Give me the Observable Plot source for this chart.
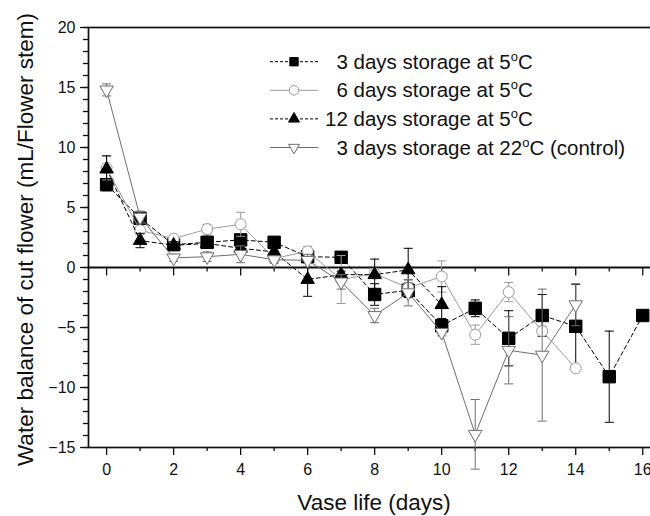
<!DOCTYPE html>
<html>
<head>
<meta charset="utf-8">
<script src="https://cdn.jsdelivr.net/npm/d3@7"></script>
<script src="https://cdn.jsdelivr.net/npm/@observablehq/plot@0.6"></script>
<style>
html, body { margin: 0; padding: 0; background: #fff; }
#chart svg { display: block; }
</style>
</head>
<body>
<div id="chart"></div>
<script>
// ---------- data ----------
const days = [0, 1, 2, 3, 4, 5, 6, 7, 8, 9, 10, 11, 12, 13, 14, 15, 16];
const xTickLabels = [0, 2, 4, 6, 8, 10, 12, 14, 16];
const xMinorTicks = [1, 3, 5, 7, 9, 11, 13, 15];
const yTickLabels = [-15, -10, -5, 0, 5, 10, 15, 20];

const seriesNames = [
  "3 days storage at 5°C",
  "6 days storage at 5°C",
  "12 days storage at 5°C",
  "3 days storage at 22°C (control)"
];

const stor3d5 = [6.9, 4.1, 1.9, 2.1, 2.3, 2.1, 0.9, 0.85, -2.25, -1.9, -4.85, -3.4, -5.9, -4.0, -4.9, -9.1, -4.0];
const stor3d5Err = [0.5, 0.3, 0.3, 0.5, 0.3, 0.4, 0.4, 0.3, 0.9, 0.6, 0.6, 0.7, 2.3, 1.75, 3.5, 3.8, null];

const stor6d5 = [8.3, 3.1, 2.4, 3.2, 3.6, 0.75, 1.35, -1.0, -0.5, -1.7, -0.75, -5.6, -2.05, -5.3, -8.4];
const stor6d5Err = [1.0, 0.3, 0.3, 0.4, 1.0, 0.3, 0.4, 2.0, 0.4, 0.6, 1.3, 0.8, 0.8, 0.4, 0.3];

const stor12d5 = [8.2, 2.25, 1.85, 2.0, 1.6, 1.3, -1.0, -0.6, -0.6, -0.2, -3.1];
const stor12d5Err = [1.1, 0.6, 0.3, 0.3, 0.3, 0.4, 1.4, 0.3, 1.3, 1.8, 1.5];

const stor3d22 = [14.8, 4.2, 0.8, 0.9, 1.1, 0.65, 0.6, -1.2, -4.0, -2.1, -5.4, -13.9, -6.9, -7.3, -3.1];
const stor3d22Err = [0.5, 0.5, 0.3, 0.4, 0.7, 0.3, 0.5, 0.6, 0.6, 1.1, 0.3, 2.9, 2.8, 5.5, 1.75];

const xTitle = "Vase life (days)";
const yTitle = "Water balance of cut flower (mL/Flower stem)";

// ---------- build tables ----------
function rows(values, errs) {
  return values.map((v, i) => ({ day: days[i], v, e: errs[i] }));
}
const seriesData = [
  rows(stor3d5, stor3d5Err),
  rows(stor6d5, stor6d5Err),
  rows(stor12d5, stor12d5Err),
  rows(stor3d22, stor3d22Err)
];

// ---------- styles ----------
const styles = [
  { color: "#000000", dash: "4,3", symbol: "square", fill: "#000000", r: 7, rotate: 0, lsym: d3.symbolSquare, lsize: 70 },
  { color: "#9c9c9c", dash: null, symbol: "circle", fill: "#ffffff", r: 5.5, rotate: 0, lsym: d3.symbolCircle, lsize: 70 },
  { color: "#000000", dash: "4,3", symbol: "triangle", fill: "#000000", r: 5, rotate: 0, lsym: d3.symbolTriangle, lsize: 52 },
  { color: "#6e6e6e", dash: null, symbol: "triangle", fill: "#ffffff", r: 5, rotate: 180, lsym: d3.symbolTriangle, lsize: 52 }
];

const capSym = { draw(ctx) { ctx.moveTo(-4.5, 0); ctx.lineTo(4.5, 0); } };
const tickDown = len => ({ draw(ctx) { ctx.moveTo(0, 0); ctx.lineTo(0, len); } });

const seriesMarks = seriesData.flatMap((data, i) => {
  const s = styles[i];
  const withErr = data.filter(d => d.e != null);
  return [
    Plot.line(data, { x: "day", y: "v", stroke: s.color, strokeWidth: 1, strokeDasharray: s.dash || undefined }),
    Plot.ruleX(withErr, { x: "day", y1: d => d.v - d.e, y2: d => d.v + d.e, stroke: s.color, strokeWidth: 1 }),
    Plot.dot(withErr, { x: "day", y: d => d.v - d.e, symbol: capSym, stroke: s.color, fill: "none", strokeWidth: 1 }),
    Plot.dot(withErr, { x: "day", y: d => d.v + d.e, symbol: capSym, stroke: s.color, fill: "none", strokeWidth: 1 }),
    Plot.dot(data, { x: "day", y: "v", symbol: s.symbol, r: s.r, rotate: s.rotate, fill: s.fill, stroke: s.color, strokeWidth: 1 })
  ];
});

// ---------- legend (render function) ----------
function legendMark(index, scales, values, dims) {
  const g = d3.create("svg:g")
    .attr("font-family", "'Liberation Sans', Arial, sans-serif")
    .attr("font-size", 20.5)
    .attr("text-anchor", "start")
    .attr("fill", "#111");
  const left = dims.marginLeft, top = dims.marginTop;
  seriesNames.forEach((name, i) => {
    const s = styles[i];
    const y = top + 34.7 + 28.6 * i;
    g.append("line")
      .attr("x1", left + 182).attr("x2", left + 230)
      .attr("y1", y).attr("y2", y)
      .attr("stroke", s.color).attr("stroke-width", 1)
      .attr("stroke-dasharray", s.dash ? "3,2" : null);
    g.append("path")
      .attr("d", d3.symbol(s.lsym, s.lsize)())
      .attr("transform", `translate(${left + 206},${y}) rotate(${s.rotate})`)
      .attr("fill", s.fill).attr("stroke", s.color).attr("stroke-width", 1);
    const label = (/^\d /.test(name) ? "\u2007" : "") + name;
    const parts = label.split("°");
    const t = g.append("text")
      .attr("x", left + 237).attr("y", y).attr("dy", "0.35em")
      .attr("text-anchor", "start");
    t.append("tspan").text(parts[0]);
    if (parts.length > 1) {
      t.append("tspan").attr("font-size", 13).attr("dy", -8).text("o");
      t.append("tspan").attr("dy", 8).text(parts[1]);
    }
  });
  return g.node();
}

// ---------- chart ----------
const chart = Plot.plot({
  width: 650,
  height: 516,
  marginLeft: 88,
  marginRight: -9,
  marginTop: 27,
  marginBottom: 69,
  style: { fontFamily: "'Liberation Sans', Arial, sans-serif", fontSize: "16px", color: "#111", background: "#fff" },
  x: { domain: [-0.54, 16.5] },
  y: { domain: [-15, 20] },
  marks: [
    // axes
    Plot.axisY(d3.range(-15, 21), { tickSize: 5, text: null, label: null, strokeWidth: 1.3 }),
    Plot.axisY(yTickLabels, { tickSize: 8, tickPadding: 5, fontSize: 16, label: null, strokeWidth: 1.3 }),
    Plot.axisX(xMinorTicks, { tickSize: 4, text: null, label: null, strokeWidth: 1.3 }),
    Plot.axisX(xTickLabels, { tickSize: 8, tickPadding: 8, fontSize: 16, label: null, strokeWidth: 1.3 }),
    Plot.frame({ stroke: "#111", strokeWidth: 1.7 }),
    Plot.ruleY([0], { stroke: "#111", strokeWidth: 2 }),
    Plot.dot(xTickLabels, { x: d => d, y: () => 0, symbol: tickDown(8), stroke: "#111", fill: "none", strokeWidth: 1.3 }),
    Plot.dot(xMinorTicks, { x: d => d, y: () => 0, symbol: tickDown(4), stroke: "#111", fill: "none", strokeWidth: 1.3 }),
    // titles
    Plot.text([xTitle], { frameAnchor: "bottom", dy: 55, lineAnchor: "middle", textAnchor: "middle", fontSize: 22.5, fill: "#111" }),
    Plot.text([yTitle], { frameAnchor: "left", dx: -63, dy: 2, rotate: -90, lineAnchor: "middle", textAnchor: "middle", fontSize: 22.5, fill: "#111" }),
    // data
    ...seriesMarks,
    // legend
    legendMark
  ]
});

document.getElementById("chart").appendChild(chart);
</script>
</body>
</html>
